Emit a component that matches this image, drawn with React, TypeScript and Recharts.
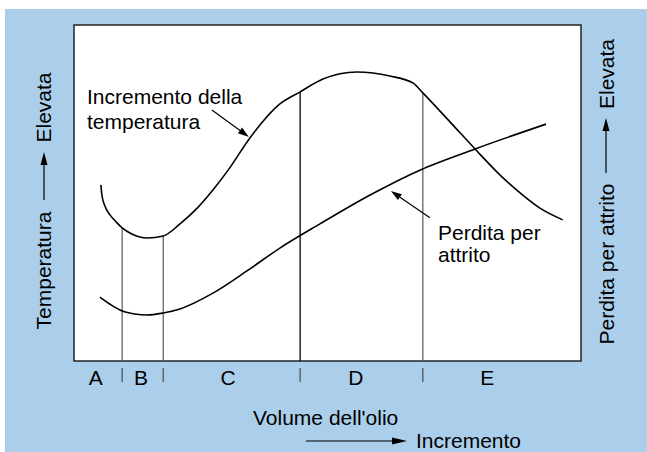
import React, { useEffect } from "react";
import {
  ComposedChart,
  Line,
  XAxis,
  YAxis,
  CartesianGrid,
  ReferenceArea,
  ReferenceLine,
  Customized,
} from "recharts";

// oil volume (0-100 across the plot) vs relative level (0-100)
const tempVolume = [5.3, 5.5, 6.1, 7.1, 8.3, 9.5, 11.4, 14.4, 17.6, 20.9, 24.3, 27.4, 30.4, 34.7, 40.6, 44.6, 49.1, 55.8, 62.3, 66.9, 68.8, 74.2, 79.1, 84.0, 86.6, 91.9, 96.4];
const tempLevel = [52.4, 49.4, 46.1, 43.5, 41.4, 39.6, 37.8, 36.6, 37.2, 40.8, 45.5, 50.9, 56.8, 66.4, 76.5, 80.1, 83.9, 86.0, 84.8, 82.7, 79.8, 71.1, 63.1, 55.4, 51.8, 45.5, 42.0];

const lossVolume = [5.1, 7.3, 9.5, 12.0, 14.4, 17.6, 20.9, 27.4, 34.1, 40.6, 48.5, 58.4, 68.2, 79.1, 93.1];
const lossLevel = [19.0, 16.7, 14.9, 14.0, 13.7, 14.3, 15.5, 20.2, 26.8, 33.6, 40.8, 49.4, 56.8, 63.1, 70.5];

// zone boundaries and where they meet the temperature curve
const zoneBounds = [9.5, 17.6, 44.6, 68.8];
const zoneTops = [39.6, 37.2, 80.1, 79.8];
const zoneLabels = ["A", "B", "C", "D", "E"];
const zoneLabelPos = [4.3, 13.2, 30.4, 55.6, 81.5];

const tempData = tempVolume.map((v, i) => ({ v, y: tempLevel[i] }));
const lossData = lossVolume.map((v, i) => ({ v, y: lossLevel[i] }));

const FONT = '"Liberation Sans", Arial, Helvetica, sans-serif';
const BLUE = "#abcfeb";

function ArrowShape(props: any) {
  const { x1, y1, x2, y2 } = props;
  const dx = x2 - x1;
  const dy = y2 - y1;
  const len = Math.hypot(dx, dy) || 1;
  const ux = dx / len;
  const uy = dy / len;
  const hl = 11;
  const hw = 3.5;
  const bx = x2 - ux * hl;
  const by = y2 - uy * hl;
  const pts = `${x2},${y2} ${bx - uy * hw},${by + ux * hw} ${bx + uy * hw},${by - ux * hw}`;
  return (
    <g>
      <line x1={x1} y1={y1} x2={bx} y2={by} stroke="#000" strokeWidth={1.2} />
      <polygon points={pts} fill="#000" />
    </g>
  );
}

function ZoneTick(props: any) {
  const { x, y, payload } = props;
  const idx = zoneLabelPos.indexOf(payload.value);
  if (idx >= 0) {
    return (
      <text x={x} y={y + 24} textAnchor="middle" fontSize={21} fontFamily={FONT} fill="#000">
        {zoneLabels[idx]}
      </text>
    );
  }
  return <line x1={x} y1={y + 7} x2={x} y2={y + 21} stroke="#555" strokeWidth={1.3} />;
}

function Titles() {
  const txt = { fontSize: 21, fontFamily: FONT, fill: "#000" };
  return (
    <g>
      {/* annotations */}
      <text x={87} y={104} {...txt}>Incremento della</text>
      <text x={87} y={129} {...txt}>temperatura</text>
      <text x={438} y={240} {...txt}>Perdita per</text>
      <text x={438} y={262} {...txt}>attrito</text>

      {/* x title */}
      <text x={253} y={425} {...txt}>Volume dell'olio</text>
      <line x1={306} y1={441} x2={394} y2={441} stroke="#000" strokeWidth={1.2} />
      <polygon points="407,441 392,437.5 392,444.5" fill="#000" />
      <text x={416} y={448} {...txt}>Incremento</text>

      {/* left title */}
      <text x={51} y={270.5} transform="rotate(-90 51 270.5)" textAnchor="middle" {...txt}>Temperatura</text>
      <text x={51} y={107.5} transform="rotate(-90 51 107.5)" textAnchor="middle" {...txt}>Elevata</text>
      <line x1={44} y1={200} x2={44} y2={163} stroke="#000" strokeWidth={1.2} />
      <polygon points="44,152 40.5,165 47.5,165" fill="#000" />

      {/* right title */}
      <text x={614} y={264} transform="rotate(-90 614 264)" textAnchor="middle" {...txt}>Perdita per attrito</text>
      <text x={614} y={74} transform="rotate(-90 614 74)" textAnchor="middle" {...txt}>Elevata</text>
      <line x1={606} y1={173} x2={606} y2={128} stroke="#000" strokeWidth={1.2} />
      <polygon points="606,118 602.5,131 609.5,131" fill="#000" />
    </g>
  );
}

export default function App() {
  useEffect(() => {
    document.documentElement.style.background = BLUE;
    document.body.style.background = BLUE;
  }, []);

  const ticks = [...zoneLabelPos, ...zoneBounds].sort((a, b) => a - b);
  return (
    <div style={{ position: "fixed", left: 0, top: 0, width: 647, height: 452, background: BLUE }}>
      <div style={{ position: "absolute", left: 0, top: 0, width: 647, height: 9, background: "#fff" }} />
      <div style={{ position: "absolute", left: 0, top: 0, width: 5, height: 452, background: "#fff" }} />
      <div style={{ position: "absolute", left: 0, top: 0 }}>
        <ComposedChart width={647} height={452} margin={{ top: 25, right: 66, left: 74, bottom: 61 }}>
          <CartesianGrid horizontal={false} vertical={false} fill="#fff" fillOpacity={1} />
          <XAxis
            type="number"
            dataKey="v"
            domain={[0, 100]}
            ticks={ticks}
            interval={0}
            tickLine={false}
            axisLine={false}
            tickSize={0}
            tickMargin={0}
            height={30}
            tick={<ZoneTick />}
            allowDataOverflow
          />
          <YAxis type="number" domain={[0, 100]} hide allowDataOverflow />
          <ReferenceArea x1={0} x2={100} y1={0} y2={100} fill="none" stroke="#222" strokeWidth={1.5} />
          {zoneBounds.map((b, i) => (
            <ReferenceLine
              key={b}
              segment={[{ x: b, y: 0 }, { x: b, y: zoneTops[i] }]}
              stroke={i === 2 ? "#000" : "#666"}
              strokeWidth={1.3}
            />
          ))}
          <Line data={tempData} dataKey="y" type="monotone" stroke="#000" strokeWidth={1.6} dot={false} isAnimationActive={false} />
          <Line data={lossData} dataKey="y" type="monotone" stroke="#000" strokeWidth={1.6} dot={false} isAnimationActive={false} />
          <ReferenceLine segment={[{ x: 27.2, y: 74.7 }, { x: 34.5, y: 66.7 }]} shape={ArrowShape} />
          <ReferenceLine segment={[{ x: 70.2, y: 42.6 }, { x: 62.5, y: 50.6 }]} shape={ArrowShape} />
          <Customized component={Titles} />
        </ComposedChart>
      </div>
    </div>
  );
}
